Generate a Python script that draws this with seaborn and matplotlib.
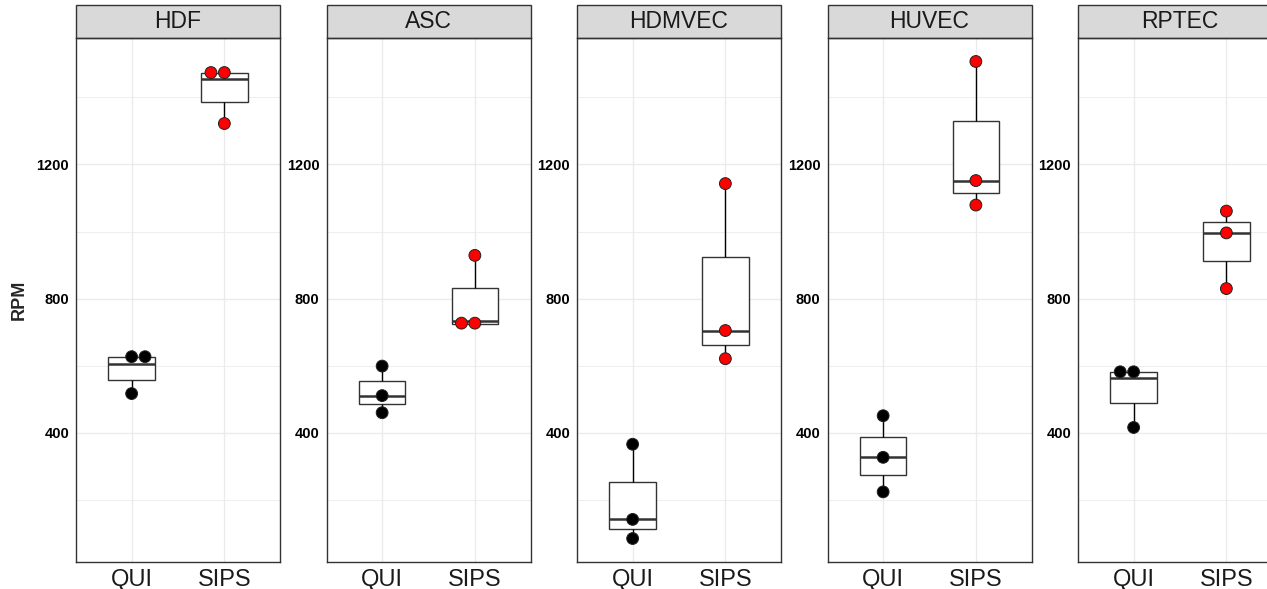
import numpy as np
import pandas as pd
import matplotlib
matplotlib.use("Agg")
import matplotlib.pyplot as plt
from matplotlib.patches import Rectangle
import seaborn as sns

cells = ["HDF", "ASC", "HDMVEC", "HUVEC", "RPTEC"]
groups = ["QUI", "SIPS"]

# replicate RPM values (three per group)
hdf_qui = [510, 604, 648]
hdf_sips = [1320, 1454, 1492]
asc_qui = [460, 511, 599]
asc_sips = [718, 733, 928]
hdmvec_qui = [85, 142, 366]
hdmvec_sips = [621, 705, 1143]
huvec_qui = [224, 327, 451]
huvec_sips = [1079, 1152, 1507]
rptec_qui = [413, 563, 597]
rptec_sips = [830, 996, 1061]

# where the jittered dots were drawn, when not on the value itself
hdf_qui_dots = [517, 627, 627]
hdf_sips_dots = [1322, 1474, 1474]
asc_sips_dots = [727, 727, 929]
rptec_qui_dots = [416, 582, 582]

values = {
    ("HDF", "QUI"): (hdf_qui, hdf_qui_dots),
    ("HDF", "SIPS"): (hdf_sips, hdf_sips_dots),
    ("ASC", "QUI"): (asc_qui, asc_qui),
    ("ASC", "SIPS"): (asc_sips, asc_sips_dots),
    ("HDMVEC", "QUI"): (hdmvec_qui, hdmvec_qui),
    ("HDMVEC", "SIPS"): (hdmvec_sips, hdmvec_sips),
    ("HUVEC", "QUI"): (huvec_qui, huvec_qui),
    ("HUVEC", "SIPS"): (huvec_sips, huvec_sips),
    ("RPTEC", "QUI"): (rptec_qui, rptec_qui_dots),
    ("RPTEC", "SIPS"): (rptec_sips, rptec_sips),
}

rows = []
for (cell, grp), (rpm, dots) in values.items():
    for r, d in zip(rpm, dots):
        rows.append({"cell": cell, "group": grp, "rpm": r, "dot": d})
df = pd.DataFrame(rows)

sns.set_style("white")
plt.rcParams["font.family"] = ["Liberation Sans", "DejaVu Sans"]

W, H = 1267, 589
fig = plt.figure(figsize=(W / 100, H / 100), dpi=100)
fig.patch.set_facecolor("white")

panel_h = 524
strip_h = 33

for i, cell in enumerate(cells):
    left = 76 + i * 250.5
    ax = fig.add_axes([left / W, (H - 562) / H, 204 / W, panel_h / H])
    sub = df[df["cell"] == cell]

    sns.boxplot(data=sub, x="group", y="rpm", order=groups, ax=ax,
                width=0.5, color="white", linecolor="#333333", linewidth=1,
                showfliers=False, showcaps=False,
                whiskerprops={"color": "black"},
                medianprops={"linewidth": 1.8, "color": "#333333"})
    sns.swarmplot(data=sub, x="group", y="dot", order=groups, hue="group",
                  hue_order=groups, palette={"QUI": "black", "SIPS": "#ff0000"},
                  size=8.5, edgecolor="#222222", linewidth=0.7, legend=False,
                  ax=ax, zorder=4)

    ax.set_xlim(-0.6, 1.6)
    ax.set_ylim(15, 1577)
    ax.set_yticks([400, 800, 1200])
    ax.set_yticks([200, 600, 1000, 1400], minor=True)
    ax.set_axisbelow(True)
    ax.grid(True, which="major", color="#EBEBEB", linewidth=1)
    ax.yaxis.grid(True, which="minor", color="#EBEBEB", linewidth=0.6)

    for s in ax.spines.values():
        s.set_visible(True)
        s.set_color("#333333")
        s.set_linewidth(1)

    ax.tick_params(axis="y", which="major", length=3, width=0.8,
                   color="#333333", pad=2, labelsize=10.5)
    ax.tick_params(axis="y", which="minor", length=0)
    ax.tick_params(axis="x", length=3, width=0.8, color="#333333",
                   pad=2, labelsize=17, labelcolor="#1a1a1a")
    for lab in ax.get_yticklabels():
        lab.set_fontweight("bold")
        lab.set_color("black")

    ax.set_xlabel("")
    ax.set_ylabel("RPM" if i == 0 else "", fontsize=13, fontweight="bold",
                  labelpad=6)

    sh = strip_h / panel_h
    ax.add_patch(Rectangle((0, 1), 1, sh, transform=ax.transAxes,
                           facecolor="#D9D9D9", edgecolor="#333333",
                           linewidth=1, clip_on=False))
    ax.text(0.5, 1 + sh / 2, cell, transform=ax.transAxes, ha="center",
            va="center", fontsize=16.5, color="#1a1a1a")

fig.savefig("out.png", dpi=100)
